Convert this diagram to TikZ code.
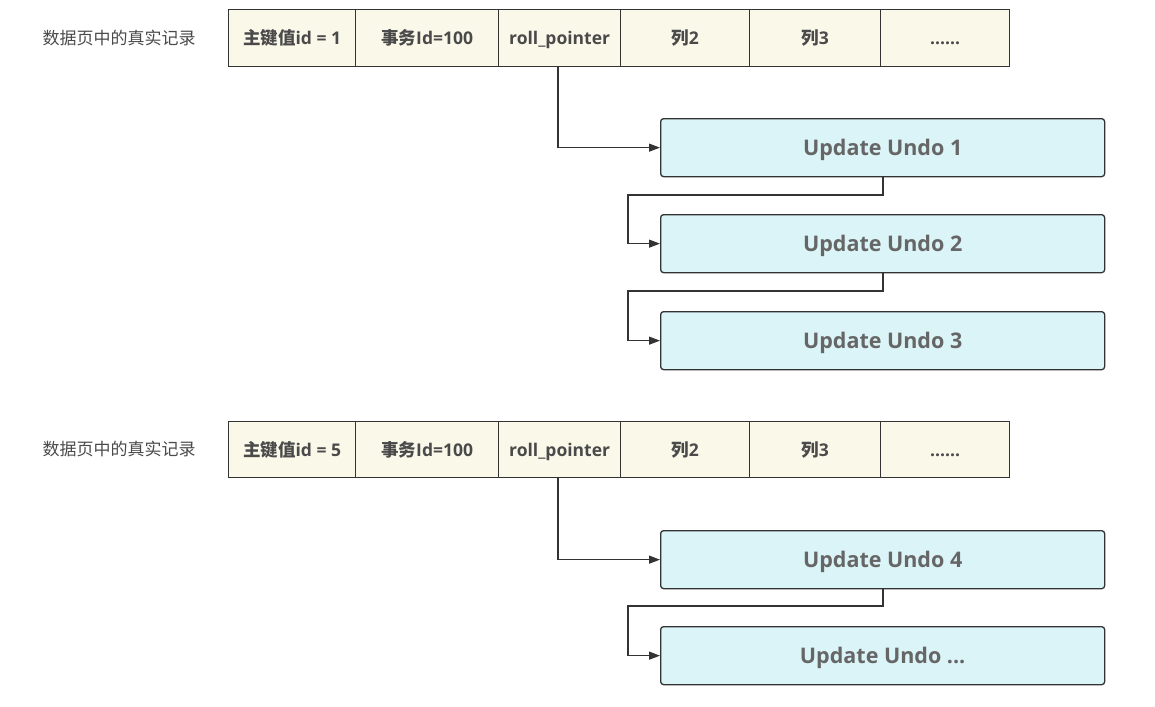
\documentclass[tikz,border=0pt]{standalone}
\usepackage{fontspec}
\setmainfont{Open Sans}
\newfontfamily\cjk{Noto Sans CJK SC}
\usetikzlibrary{arrows.meta}
\definecolor{rowfill}{HTML}{FAF8E9}
\definecolor{undofill}{HTML}{DBF4F7}
\definecolor{linec}{HTML}{333333}
\definecolor{txtc}{HTML}{4A4A4A}
\definecolor{undotxt}{HTML}{666666}
\begin{document}
\begin{tikzpicture}[x=1pt,y=-1pt,
  cellbox/.style={draw=linec,line width=1.3pt,fill=rowfill,inner sep=0pt,anchor=north west,
    font=\fontsize{17.5}{20}\selectfont\bfseries,text=txtc,text height=15pt,text depth=2pt},
  undobox/.style={draw=linec,line width=1.3pt,fill=undofill,rounded corners=3pt,inner sep=0pt,
    anchor=north west,minimum width=444pt,minimum height=58pt,
    font=\fontsize{21.5}{24}\selectfont\bfseries,text=undotxt,text height=18pt,text depth=2.6pt},
  rowlabel/.style={font=\fontsize{17}{20}\selectfont,text=txtc},
  conn/.style={draw=linec,line width=1.2pt,-{Triangle[length=11pt,width=8pt]}}]
\useasboundingbox (0,0) rectangle (1155,706);
% ---------- row 1 ----------
\node[rowlabel] (lab1) at (119,38) {\cjk 数据页中的真实记录};
\node[cellbox,minimum width=127pt,minimum height=57pt] (a1) at (228,9) {{\cjk 主键值}id = 1};
\node[cellbox,minimum width=143pt,minimum height=57pt] (a2) at (355,9) {{\cjk 事务}Id=100};
\node[cellbox,minimum width=122pt,minimum height=57pt] (a3) at (498,9) {roll\_pointer};
\node[cellbox,minimum width=129pt,minimum height=57pt] (a4) at (620,9) {{\cjk 列}2};
\node[cellbox,minimum width=131pt,minimum height=57pt] (a5) at (749,9) {{\cjk 列}3};
\node[cellbox,minimum width=129pt,minimum height=57pt] (a6) at (880,9) {......};
\node[undobox] (u1) at (660,118) {Update Undo 1};
\node[undobox] (u2) at (660,214) {Update Undo 2};
\node[undobox] (u3) at (660,311) {Update Undo 3};
\coordinate (p1) at (558,0);
\draw[conn] (a3.south -| p1) |- (u1.west);
\coordinate (k1) at (628,195);
\coordinate (k2) at (628,291);
\draw[conn] (u1.south -| 883,0) |- (k1) |- (u2.west);
\draw[conn] (u2.south -| 883,0) |- (k2) |- (u3.west);
% ---------- row 2 ----------
\node[rowlabel] (lab2) at (119,449) {\cjk 数据页中的真实记录};
\node[cellbox,minimum width=127pt,minimum height=56pt] (b1) at (228,421) {{\cjk 主键值}id = 5};
\node[cellbox,minimum width=143pt,minimum height=56pt] (b2) at (355,421) {{\cjk 事务}Id=100};
\node[cellbox,minimum width=122pt,minimum height=56pt] (b3) at (498,421) {roll\_pointer};
\node[cellbox,minimum width=129pt,minimum height=56pt] (b4) at (620,421) {{\cjk 列}2};
\node[cellbox,minimum width=131pt,minimum height=56pt] (b5) at (749,421) {{\cjk 列}3};
\node[cellbox,minimum width=129pt,minimum height=56pt] (b6) at (880,421) {......};
\node[undobox] (u4) at (660,530) {Update Undo 4};
\node[undobox] (u5) at (660,626) {Update Undo ...};
\draw[conn] (b3.south -| p1) |- (u4.west);
\coordinate (k3) at (628,606);
\draw[conn] (u4.south -| 883,0) |- (k3) |- (u5.west);
\end{tikzpicture}
\end{document}
